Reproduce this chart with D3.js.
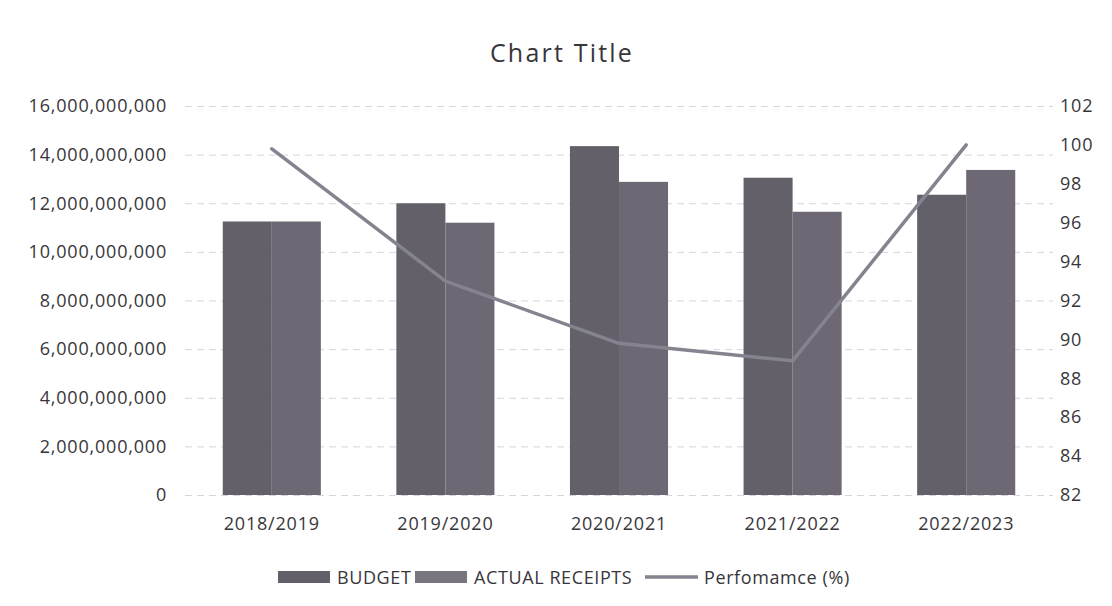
<!DOCTYPE html>
<html>
<head>
<meta charset="utf-8">
<script src="https://cdn.jsdelivr.net/npm/d3@7"></script>
<style>
  body { margin: 0; background: #fff; }
  svg { display: block; font-family: "Open Sans", sans-serif; }
</style>
</head>
<body>
<div id="chart"></div>
<script>
// Data
const years = ['2018/2019', '2019/2020', '2020/2021', '2021/2022', '2022/2023'];
const budget = [11.25e9, 12.0e9, 14.35e9, 13.05e9, 12.35e9];
const actualReceipts = [11.25e9, 11.2e9, 12.88e9, 11.65e9, 13.37e9];
const performance = [99.8, 93.0, 89.8, 88.9, 100.0];
const leftTicks = [0, 2e9, 4e9, 6e9, 8e9, 10e9, 12e9, 14e9, 16e9];
const rightTicks = [82, 84, 86, 88, 90, 92, 94, 96, 98, 100, 102];

const W = 1112, H = 606;
const plot = { left: 185, right: 1053, top: 106, bottom: 495 };
const textColor = '#38363b';

const svg = d3.select('#chart').append('svg')
    .attr('width', W).attr('height', H);

// Scales
const x0 = d3.scaleBand().domain(years).range([plot.left, plot.right]);
const groupW = x0.bandwidth() * 0.565;
const x1 = d3.scaleBand().domain(['budget', 'actual']).range([0, groupW]);
const yL = d3.scaleLinear().domain([0, 16e9]).range([plot.bottom, plot.top]);
const yR = d3.scaleLinear().domain([82, 102]).range([plot.bottom, plot.top]);

// Title
svg.append('text')
    .attr('x', 562).attr('y', 62)
    .attr('text-anchor', 'middle')
    .attr('font-size', 25).attr('letter-spacing', 2.2).attr('fill', textColor)
    .text('Chart Title');

// Gridlines (faint, dashed as they appear in the scan)
svg.append('g')
    .attr('transform', `translate(${plot.left},0)`)
    .call(d3.axisLeft(yL).tickValues(leftTicks).tickSize(-(plot.right - plot.left)).tickFormat(''))
    .call(g => g.select('.domain').remove())
    .call(g => g.selectAll('line').attr('stroke', '#d6d6dc').attr('stroke-dasharray', '7,5'));

const styleText = g => g.selectAll('text')
    .attr('font-size', 18).attr('letter-spacing', 0.8)
    .attr('fill', textColor).attr('font-family', '"Open Sans", sans-serif');

// Left axis labels
svg.append('g')
    .attr('transform', `translate(${plot.left},0)`)
    .call(d3.axisLeft(yL).tickValues(leftTicks).tickSize(0).tickPadding(18).tickFormat(d3.format(',')))
    .call(g => g.select('.domain').remove())
    .call(styleText);

// Right axis labels
svg.append('g')
    .attr('transform', `translate(${plot.right},0)`)
    .call(d3.axisRight(yR).tickValues(rightTicks).tickSize(0).tickPadding(7))
    .call(g => g.select('.domain').remove())
    .call(styleText);

// Category labels
svg.append('g')
    .attr('transform', `translate(0,${plot.bottom})`)
    .call(d3.axisBottom(x0).tickSize(0).tickPadding(22))
    .call(g => g.select('.domain').remove())
    .call(styleText);

// Bars
const rows = years.map((y, i) => ({ year: y, budget: budget[i], actual: actualReceipts[i] }));
const colors = { budget: '#646069', actual: '#6d6873' };

const groups = svg.append('g').selectAll('g')
    .data(rows)
    .join('g')
    .attr('transform', d => `translate(${x0(d.year) + (x0.bandwidth() - groupW) / 2},0)`);

groups.selectAll('rect')
    .data(d => ['budget', 'actual'].map(k => ({ key: k, value: d[k] })))
    .join('rect')
    .attr('x', d => x1(d.key))
    .attr('width', x1.bandwidth())
    .attr('y', d => yL(d.value))
    .attr('height', d => yL(0) - yL(d.value))
    .attr('fill', d => colors[d.key]);

// Performance line
const line = d3.line()
    .x((d, i) => x0(years[i]) + x0.bandwidth() / 2)
    .y(d => yR(d));

svg.append('path')
    .datum(performance)
    .attr('d', line)
    .attr('fill', 'none')
    .attr('stroke', '#85838f')
    .attr('stroke-width', 3.5)
    .attr('stroke-linejoin', 'round')
    .attr('stroke-linecap', 'round');

// Legend
const legend = svg.append('g').attr('transform', 'translate(0,577)');
const legendItems = [
    { label: 'BUDGET', type: 'rect', color: colors.budget, x: 278 },
    { label: 'ACTUAL RECEIPTS', type: 'rect', color: '#7a7680', x: 415 },
    { label: 'Perfomamce (%)', type: 'line', color: '#85838f', x: 645 }
];
legendItems.forEach(it => {
    if (it.type === 'rect') {
        legend.append('rect')
            .attr('x', it.x).attr('y', -6).attr('width', 52).attr('height', 12)
            .attr('fill', it.color);
    } else {
        legend.append('line')
            .attr('x1', it.x).attr('x2', it.x + 53).attr('y1', 0).attr('y2', 0)
            .attr('stroke', it.color).attr('stroke-width', 3.5);
    }
    legend.append('text')
        .attr('x', it.x + 59).attr('y', 7)
        .attr('font-size', 18).attr('letter-spacing', 0.6).attr('fill', textColor)
        .text(it.label);
});
</script>
</body>
</html>
